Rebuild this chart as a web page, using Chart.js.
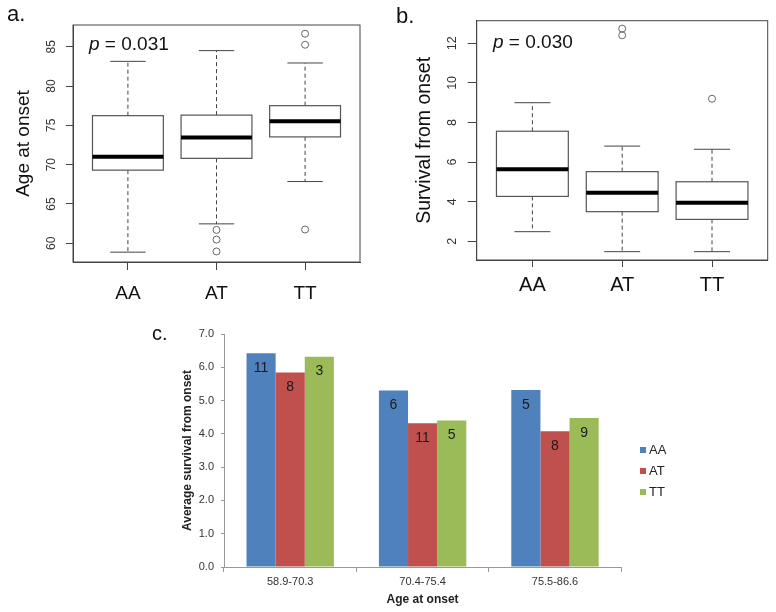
<!DOCTYPE html>
<html>
<head>
<meta charset="utf-8">
<script src="https://cdn.jsdelivr.net/npm/chart.js@4.4.1/dist/chart.umd.min.js"></script>
<style>
  body { margin: 0; background: #fff; font-family: "Liberation Sans", Arial, sans-serif; }
  #page { position: relative; width: 776px; height: 612px; overflow: hidden; background: #fff; }
  #page canvas { position: absolute; }
  .lbl { position: absolute; color: #111; white-space: nowrap; }
  #barLegend { position: absolute; left: 640px; top: 439px; font-size: 13px; color: #222; }
  #barLegend .row { display: flex; align-items: center; height: 21.2px; }
  #barLegend .sw { width: 6px; height: 6px; margin-right: 3px; }
</style>
</head>
<body>
<div id="page">
  <canvas id="ageChart" width="380" height="310" style="left:0px;top:0px"></canvas>
  <canvas id="survChart" width="396" height="310" style="left:380px;top:0px"></canvas>
  <canvas id="barChart" width="626" height="302" style="left:150px;top:310px"></canvas>

  <div class="lbl" style="left:7px;top:3px;font-size:22px;line-height:22px">a.</div>
  <div class="lbl" style="left:396px;top:5px;font-size:22px;line-height:22px">b.</div>
  <div class="lbl" style="left:152px;top:323px;font-size:20px;line-height:20px">c.</div>
  <div class="lbl" style="left:89px;top:34px;font-size:19px;line-height:19px"><i>p</i> = 0.031</div>
  <div class="lbl" style="left:493px;top:32px;font-size:19px;line-height:19px"><i>p</i> = 0.030</div>
  <div id="barLegend"></div>
</div>

<script>
  Chart.defaults.font.family = '"Liberation Sans", Arial, sans-serif';
  Chart.defaults.animation = false;

  // genotype groups (boxplots a and b)
  const groups = ['AA', 'AT', 'TT'];

  // a. age at onset
  const ageLowWhisker = [58.87, 62.47, 67.85];
  const ageQ1 = [69.3, 70.8, 73.53];
  const ageMedian = [71.0, 73.44, 75.52];
  const ageQ3 = [76.23, 76.3, 77.5];
  const ageHighWhisker = [83.14, 84.5, 82.93];
  const ageOutliers = [[], [61.7, 60.47, 58.96], [86.65, 85.25, 61.75]];
  const ageTicks = [60, 65, 70, 75, 80, 85];

  // b. survival from onset
  const survLowWhisker = [2.49, 1.48, 1.48];
  const survQ1 = [4.27, 3.5, 3.11];
  const survMedian = [5.64, 4.46, 3.95];
  const survQ3 = [7.56, 5.52, 5.01];
  const survHighWhisker = [9.0, 6.81, 6.65];
  const survOutliers = [[], [12.74, 12.4], [9.2]];
  const survTicks = [2, 4, 6, 8, 10, 12];

  // c. average survival by age band
  const ageBands = ['58.9-70.3', '70.4-75.4', '75.5-86.6'];
  const seriesNames = ['AA', 'AT', 'TT'];
  const seriesColors = ['#4F81BD', '#C0504D', '#9BBB59'];
  const avgSurvAA = [6.42, 5.30, 5.32];
  const avgSurvAT = [5.84, 4.32, 4.08];
  const avgSurvTT = [6.32, 4.40, 4.48];
  const countAA = [11, 6, 5];
  const countAT = [8, 11, 8];
  const countTT = [3, 5, 9];

  // draws whiskers, boxes, medians and the R-style frame
  function boxPlugin(stats) {
    return {
      id: 'boxPlot',
      beforeDatasetsDraw(chart) {
        const { ctx, scales: { x, y } } = chart;
        const line = (x1, y1, x2, y2) => { ctx.beginPath(); ctx.moveTo(x1, y1); ctx.lineTo(x2, y2); ctx.stroke(); };
        ctx.save();
        stats.median.forEach((m, i) => {
          const pos = i + 1;
          const cx = x.getPixelForValue(pos);
          const left = x.getPixelForValue(pos - 0.4), right = x.getPixelForValue(pos + 0.4);
          const capL = x.getPixelForValue(pos - 0.2), capR = x.getPixelForValue(pos + 0.2);
          const yLo = y.getPixelForValue(stats.lo[i]), yHi = y.getPixelForValue(stats.hi[i]);
          const yQ1 = y.getPixelForValue(stats.q1[i]), yQ3 = y.getPixelForValue(stats.q3[i]);
          const yMed = y.getPixelForValue(m);

          ctx.strokeStyle = '#444';
          ctx.lineWidth = 1;
          ctx.setLineDash([4, 3]);
          line(cx, yQ3, cx, yHi);
          line(cx, yQ1, cx, yLo);
          ctx.setLineDash([]);
          line(capL, yHi, capR, yHi);
          line(capL, yLo, capR, yLo);

          ctx.fillStyle = '#fff';
          ctx.fillRect(left, yQ3, right - left, yQ1 - yQ3);
          ctx.strokeStyle = '#555';
          ctx.lineWidth = 1.2;
          ctx.strokeRect(left, yQ3, right - left, yQ1 - yQ3);

          ctx.strokeStyle = '#000';
          ctx.lineWidth = 4;
          line(left, yMed, right, yMed);
        });
        const a = chart.chartArea;
        ctx.strokeStyle = '#444';
        ctx.lineWidth = 1;
        ctx.strokeRect(a.left, a.top, a.right - a.left, a.bottom - a.top);
        ctx.restore();
      }
    };
  }

  function makeBoxChart(id, cfg) {
    const points = [];
    cfg.outliers.forEach((list, i) => list.forEach(v => points.push({ x: i + 1, y: v })));
    return new Chart(document.getElementById(id), {
      type: 'scatter',
      data: {
        datasets: [{
          data: points,
          pointRadius: 3.5,
          pointBorderWidth: 1,
          pointBorderColor: '#666',
          pointBackgroundColor: 'rgba(0,0,0,0)'
        }]
      },
      options: {
        responsive: false,
        layout: { padding: cfg.padding },
        plugins: { legend: { display: false }, tooltip: { enabled: false } },
        scales: {
          x: {
            type: 'linear', min: 0.38, max: 3.62,
            afterBuildTicks: s => { s.ticks = groups.map((g, i) => ({ value: i + 1 })); },
            afterFit: s => { s.height = cfg.xHeight; },
            ticks: { callback: v => groups[v - 1], font: { size: cfg.xFont }, color: '#111', padding: cfg.xPad, maxRotation: 0 },
            grid: { drawOnChartArea: false, tickLength: cfg.xTick, tickColor: '#444' },
            border: { color: '#444' }
          },
          y: {
            min: cfg.yMin, max: cfg.yMax,
            afterBuildTicks: s => { s.ticks = cfg.ticks.map(v => ({ value: v })); },
            afterFit: s => { s.width = cfg.yWidth; },
            ticks: { minRotation: 90, maxRotation: 90, crossAlign: 'center', font: { size: cfg.yFont }, color: '#333', padding: 8 },
            grid: { drawOnChartArea: false, tickLength: cfg.yTick, tickColor: '#444' },
            border: { color: '#444' },
            title: { display: true, text: cfg.title, font: { size: cfg.titleFont }, color: '#111', padding: { top: cfg.titlePad, bottom: 0 } }
          }
        }
      },
      plugins: [boxPlugin(cfg.stats)]
    });
  }

  makeBoxChart('ageChart', {
    stats: { lo: ageLowWhisker, q1: ageQ1, median: ageMedian, q3: ageQ3, hi: ageHighWhisker },
    outliers: ageOutliers, ticks: ageTicks,
    yMin: 57.62, yMax: 87.76,
    padding: { left: 0, right: 20, top: 25, bottom: 0 },
    yWidth: 73, xHeight: 48,
    xFont: 19, xPad: 12, xTick: 8,
    yFont: 12, yTick: 7,
    title: 'Age at onset', titleFont: 19, titlePad: 12.6
  });

  makeBoxChart('survChart', {
    stats: { lo: survLowWhisker, q1: survQ1, median: survMedian, q3: survQ3, hi: survHighWhisker },
    outliers: survOutliers, ticks: survTicks,
    yMin: 1.06, yMax: 13.14,
    padding: { left: 20, right: 8.3, top: 20.7, bottom: 0 },
    yWidth: 76.7, xHeight: 50,
    xFont: 20, xPad: 6, xTick: 7,
    yFont: 12.5, yTick: 9,
    title: 'Survival from onset', titleFont: 19.5, titlePad: 13.3
  });

  // sample sizes printed inside the bars
  const barCounts = {
    id: 'barCounts',
    afterDatasetsDraw(chart) {
      const { ctx } = chart;
      ctx.save();
      ctx.font = '14px "Liberation Sans", Arial, sans-serif';
      ctx.fillStyle = '#1a1a1a';
      ctx.textAlign = 'center';
      ctx.textBaseline = 'middle';
      chart.data.datasets.forEach((ds, di) => {
        chart.getDatasetMeta(di).data.forEach((bar, i) => {
          ctx.fillText(String(ds.counts[i]), bar.x, bar.y + 15);
        });
      });
      ctx.restore();
    }
  };

  const barValues = [avgSurvAA, avgSurvAT, avgSurvTT];
  const barCountsData = [countAA, countAT, countTT];

  new Chart(document.getElementById('barChart'), {
    type: 'bar',
    data: {
      labels: ageBands,
      datasets: seriesNames.map((name, i) => ({
        label: name,
        data: barValues[i],
        counts: barCountsData[i],
        backgroundColor: seriesColors[i],
        borderWidth: 0,
        categoryPercentage: 0.66,
        barPercentage: 1.0
      }))
    },
    options: {
      responsive: false,
      layout: { padding: { left: 0, right: 154.8, top: 24, bottom: 0 } },
      plugins: { legend: { display: false }, tooltip: { enabled: false } },
      scales: {
        x: {
          afterFit: s => { s.height = 45; },
          ticks: { font: { size: 11 }, color: '#333', padding: 3, maxRotation: 0 },
          grid: { offset: true, drawOnChartArea: false, tickLength: 5, color: '#999' },
          border: { color: '#999' },
          title: { display: true, text: 'Age at onset', font: { size: 12, weight: 'bold' }, color: '#222', padding: { top: 0, bottom: 5.5 } }
        },
        y: {
          min: 0, max: 7,
          afterFit: s => { s.width = 74; },
          ticks: { stepSize: 1, callback: v => v.toFixed(1), font: { size: 11 }, color: '#333', padding: 7 },
          grid: { drawOnChartArea: false, tickLength: 3, color: '#999' },
          border: { color: '#999' },
          title: { display: true, text: 'Average survival from onset', font: { size: 12, weight: 'bold' }, color: '#222', padding: { top: 30.8, bottom: 0 } }
        }
      }
    },
    plugins: [barCounts]
  });

  // legend for panel c
  const legendBox = document.getElementById('barLegend');
  seriesNames.forEach((name, i) => {
    const row = document.createElement('div');
    row.className = 'row';
    const sw = document.createElement('span');
    sw.className = 'sw';
    sw.style.background = seriesColors[i];
    row.appendChild(sw);
    row.appendChild(document.createTextNode(name));
    legendBox.appendChild(row);
  });
</script>
</body>
</html>
